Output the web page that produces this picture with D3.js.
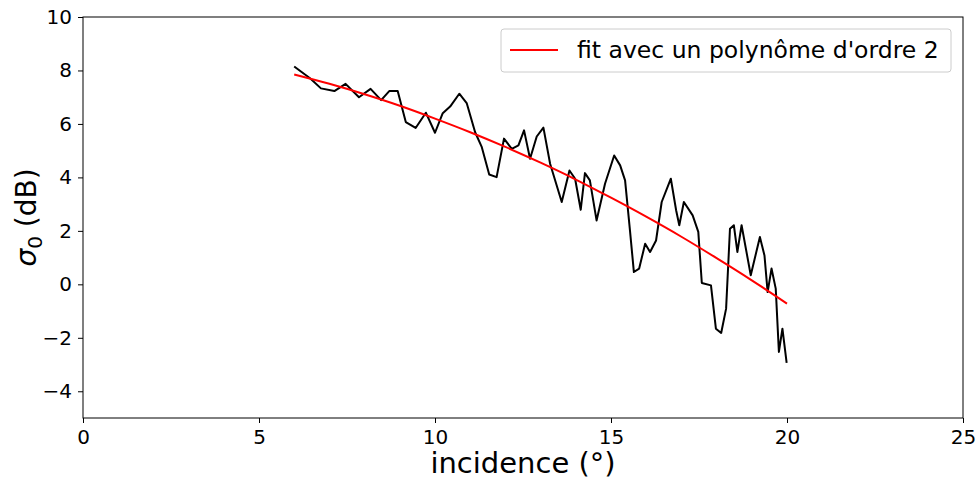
<!DOCTYPE html>
<html><head><meta charset="utf-8">
<script src="https://cdn.jsdelivr.net/npm/d3@7"></script>
<style>body{margin:0;background:#fff}svg{display:block}text{font-family:"DejaVu Sans",sans-serif}</style>
</head><body><svg id="c" width="977" height="480"></svg>
<script>
const incidence = [6.0,6.45,6.76,7.14,7.46,7.84,8.17,8.47,8.70,8.94,9.17,9.45,9.74,10.0,10.22,10.43,10.69,10.90,11.14,11.33,11.54,11.75,11.96,12.18,12.37,12.53,12.70,12.89,13.08,13.27,13.60,13.82,13.98,14.14,14.26,14.40,14.59,14.83,15.09,15.26,15.40,15.54,15.65,15.80,15.97,16.11,16.28,16.44,16.70,16.85,16.94,17.07,17.32,17.48,17.58,17.84,17.98,18.13,18.27,18.38,18.49,18.59,18.71,18.97,19.23,19.36,19.45,19.56,19.68,19.77,19.87,19.99];
const sigma0 = [8.15,7.71,7.33,7.23,7.50,7.00,7.31,6.89,7.23,7.23,6.07,5.85,6.42,5.67,6.40,6.65,7.13,6.78,5.69,5.13,4.11,4.01,5.45,5.07,5.20,5.76,4.70,5.53,5.86,4.51,3.08,4.26,3.95,2.79,4.16,3.89,2.39,3.76,4.82,4.45,3.89,2.0,0.46,0.59,1.52,1.21,1.64,3.08,3.95,2.77,2.21,3.08,2.58,1.96,0.05,-0.04,-1.66,-1.82,-0.91,2.08,2.21,1.21,2.21,0.34,1.77,1.08,-0.29,0.59,-0.16,-2.53,-1.66,-2.94];
const fitX = [6,7,8,9,10,11,12,13,14,15,16,17,18,19,20];
const fitY = [7.85,7.50,7.11,6.68,6.20,5.69,5.14,4.55,3.92,3.24,2.53,1.78,0.98,0.15,-0.72];
const xTicks = [0,5,10,15,20,25];
const yTicks = [-4,-2,0,2,4,6,8,10];
const legendLabel = "fit avec un polynôme d'ordre 2";

const svg = d3.select("#c");
const L=83,R=963,T=17,B=418;
const x = d3.scaleLinear().domain([0,25]).range([L,R]);
const y = d3.scaleLinear().domain([-5,10]).range([B,T]);

const g = svg.append("g");
const line = d3.line().x((d,i)=>x(d[0])).y(d=>y(d[1]));
g.append("path").datum(incidence.map((v,i)=>[v,sigma0[i]]))
 .attr("d",line).attr("fill","none").attr("stroke","#000").attr("stroke-width",2).attr("stroke-linejoin","round");
g.append("path").datum(fitX.map((v,i)=>[v,fitY[i]]))
 .attr("d",d3.line().x(d=>x(d[0])).y(d=>y(d[1])).curve(d3.curveMonotoneX))
 .attr("fill","none").attr("stroke","#ff0000").attr("stroke-width",2);

// axes
const xa = svg.append("g").attr("transform",`translate(0,${B})`)
 .call(d3.axisBottom(x).tickValues(xTicks).tickFormat(d3.format("d")).tickSize(5).tickPadding(7));
const ya = svg.append("g").attr("transform",`translate(${L},0)`)
 .call(d3.axisLeft(y).tickValues(yTicks).tickFormat(d3.format("d")).tickSize(5).tickPadding(6));
[xa,ya].forEach(a=>{a.select(".domain").remove();a.selectAll("text").attr("font-size",20).attr("fill","#000").style("font-family","DejaVu Sans");a.selectAll("line").attr("stroke","#000");});
svg.append("rect").attr("x",L).attr("y",T).attr("width",R-L).attr("height",B-T)
 .attr("fill","none").attr("stroke","#000").attr("stroke-width",1);

svg.append("text").attr("x",x(12.5)).attr("y",473).attr("text-anchor","middle").attr("font-size",29).text("incidence (°)");
const yl = svg.append("text").attr("transform",`translate(36,${y(2.5)}) rotate(-90)`).attr("text-anchor","middle").attr("font-size",28);
yl.append("tspan").attr("font-style","italic").text("σ");
yl.append("tspan").attr("font-size",20).attr("dy",6).text("0");
yl.append("tspan").attr("dy",-6).text(" (dB)");

// legend
const lg = svg.append("g");
lg.append("rect").attr("x",501).attr("y",29).attr("width",450).attr("height",43).attr("rx",3)
 .attr("fill","#fff").attr("fill-opacity",0.8).attr("stroke","#cccccc").attr("stroke-width",1);
lg.append("line").attr("x1",510).attr("x2",558).attr("y1",50).attr("y2",50).attr("stroke","#ff0000").attr("stroke-width",2);
lg.append("text").attr("x",577).attr("y",58).attr("font-size",23.5).text(legendLabel);
</script></body></html>
